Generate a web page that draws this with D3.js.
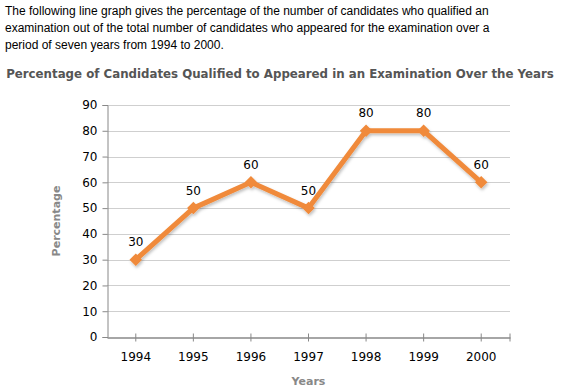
<!DOCTYPE html>
<html>
<head>
<meta charset="utf-8">
<script src="https://cdn.jsdelivr.net/npm/d3@7"></script>
<style>
  body { margin: 0; background: #fff; }
  svg { display: block; }
</style>
</head>
<body>
<script>
// chart data
const years = ["1994", "1995", "1996", "1997", "1998", "1999", "2000"];
const percentQualified = [30, 50, 60, 50, 80, 80, 60];
const yTicks = [0, 10, 20, 30, 40, 50, 60, 70, 80, 90];
const introLines = [
  "The following line graph gives the percentage of the number of candidates who qualified an",
  "examination out of the total number of candidates who appeared for the examination over a",
  "period of seven years from 1994 to 2000."
];
const chartTitle = "Percentage of Candidates Qualified to Appeared in an Examination Over the Years";

const W = 564, H = 392;
const plot = { left: 107, right: 510, top: 105, bottom: 337 };
const verdana = "DejaVu Sans, Verdana, sans-serif";

const svg = d3.select("body").append("svg").attr("width", W).attr("height", H);

// intro paragraph
svg.append("g").selectAll("text").data(introLines).join("text")
  .attr("x", 5).attr("y", (d, i) => 15 + i * 17)
  .attr("font-family", "Liberation Sans, Arial, sans-serif")
  .attr("font-size", 12).attr("fill", "#000")
  .text(d => d);

svg.append("text")
  .attr("x", 280).attr("y", 78).attr("text-anchor", "middle")
  .attr("font-family", verdana)
  .attr("font-weight", "bold").attr("font-size", 11.8).attr("fill", "#555")
  .text(chartTitle);

const x = d3.scaleBand().domain(years).range([plot.left, plot.right]);
const y = d3.scaleLinear().domain([0, 90]).range([plot.bottom, plot.top]);

// grid
svg.append("g").selectAll("line").data(yTicks.slice(1)).join("line")
  .attr("x1", plot.left).attr("x2", plot.right)
  .attr("y1", d => Math.round(y(d)) + 0.5).attr("y2", d => Math.round(y(d)) + 0.5)
  .attr("stroke", "#cfcfcf");

// y axis
const yAxis = svg.append("g").attr("transform", `translate(${plot.left + 0.5},0)`)
  .call(d3.axisLeft(y).tickValues(yTicks).tickSize(5).tickPadding(5));
yAxis.select(".domain").attr("stroke", "#888");
yAxis.selectAll(".tick line").attr("stroke", "#888");
yAxis.selectAll("text").attr("font-family", verdana)
  .attr("font-size", 12).attr("fill", "#000");

// x axis
const xAxis = svg.append("g").attr("transform", `translate(0,${plot.bottom + 0.5})`)
  .call(d3.axisBottom(x).tickSize(0).tickPadding(15).tickSizeOuter(0));
xAxis.select(".domain").attr("stroke", "#888").attr("stroke-width", 1.5);
xAxis.selectAll(".tick line").attr("y1", -4).attr("y2", 4).attr("stroke", "#888");
xAxis.selectAll("text").attr("font-family", verdana)
  .attr("font-size", 12).attr("fill", "#000");
xAxis.append("line").attr("x1", plot.right).attr("x2", plot.right)
  .attr("y1", -4).attr("y2", 4).attr("stroke", "#888");

// axis titles
svg.append("text")
  .attr("x", (plot.left + plot.right) / 2).attr("y", 385).attr("text-anchor", "middle")
  .attr("font-family", verdana)
  .attr("font-weight", "bold").attr("font-size", 11).attr("fill", "#888")
  .text("Years");
svg.append("text")
  .attr("transform", `translate(60,${(plot.top + plot.bottom) / 2}) rotate(-90)`)
  .attr("text-anchor", "middle")
  .attr("font-family", verdana)
  .attr("font-weight", "bold").attr("font-size", 11).attr("fill", "#888")
  .text("Percentage");

// line + markers
const pts = years.map((yr, i) => ({ yr, v: percentQualified[i] }));
const cx = d => x(d.yr) + x.bandwidth() / 2;

const defs = svg.append("defs");
defs.append("filter").attr("id", "shadow").attr("x", "-50%").attr("y", "-50%")
  .attr("width", "200%").attr("height", "200%")
  .append("feDropShadow").attr("dx", 1).attr("dy", 2).attr("stdDeviation", 1.5)
  .attr("flood-color", "#000").attr("flood-opacity", 0.25);

const g = svg.append("g").attr("filter", "url(#shadow)");
g.append("path").datum(pts)
  .attr("d", d3.line().x(cx).y(d => y(d.v)))
  .attr("fill", "none").attr("stroke", "#f08a3a").attr("stroke-width", 5)
  .attr("stroke-linejoin", "round");
g.selectAll("path.m").data(pts).join("path").attr("class", "m")
  .attr("d", d3.symbol(d3.symbolDiamond2, 100))
  .attr("transform", d => `translate(${cx(d)},${y(d.v)})`)
  .attr("fill", "#f08a3a");

svg.append("g").selectAll("text").data(pts).join("text")
  .attr("x", cx).attr("y", d => y(d.v) - 13.5).attr("text-anchor", "middle")
  .attr("font-family", verdana)
  .attr("font-size", 12).attr("fill", "#000")
  .text(d => d.v);
</script>
</body>
</html>
